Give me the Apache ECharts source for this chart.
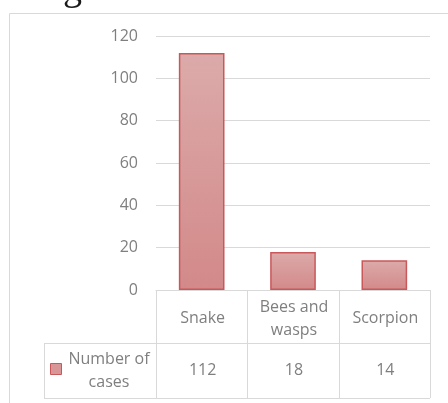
<!DOCTYPE html>
<html>
<head>
<meta charset="utf-8">
<script src="https://cdn.jsdelivr.net/npm/echarts@6/dist/echarts.min.js"></script>
<style>
  html, body { margin: 0; padding: 0; background: #fff; }
  #c { width: 448px; height: 403px; }
</style>
</head>
<body>
<div id="c"></div>
<script>
// Chart data
const categories = ['Snake', 'Bees and\nwasps', 'Scorpion'];
const cases = [112, 18, 14];
const seriesName = 'Number of\ncases';
const yMin = 0;
const yMax = 120;
const yStep = 20;

const TXT = '#7f7f7f';
const LINE = '#d9d9d9';
const FONT = 'Open Sans';
const FS = 16;

const chart = echarts.init(document.getElementById('c'), null, { renderer: 'canvas' });

chart.setOption({
  animation: false,
  backgroundColor: '#ffffff',
  grid: { left: 156, right: 18, top: 36, bottom: 113, containLabel: false },
  xAxis: {
    type: 'category',
    data: categories,
    axisLine: { show: true, lineStyle: { color: LINE, width: 1 } },
    axisTick: { show: false },
    axisLabel: { show: false },
    splitLine: { show: false }
  },
  yAxis: {
    type: 'value',
    min: yMin,
    max: yMax,
    interval: yStep,
    axisLine: { show: false },
    axisTick: { show: false },
    axisLabel: { color: TXT, fontFamily: FONT, fontSize: FS, margin: 18 },
    splitLine: { lineStyle: { color: LINE, width: 1 } }
  },
  series: [{
    name: seriesName,
    type: 'bar',
    data: cases,
    barWidth: '50%',
    itemStyle: {
      color: new echarts.graphic.LinearGradient(0, 0, 0, 1, [
        { offset: 0, color: '#dcaaaa' },
        { offset: 1, color: '#d38989' }
      ]),
      borderColor: '#c9585a',
      borderWidth: 1.5
    }
  }]
});

// Data table under the plot, laid out from the category axis positions
const c0 = chart.convertToPixel({ xAxisIndex: 0 }, 0);
const c1 = chart.convertToPixel({ xAxisIndex: 0 }, 1);
const band = c1 - c0;
const left = c0 - band / 2;
const right = left + band * categories.length;
const yTop = chart.convertToPixel({ yAxisIndex: 0 }, yMin);
const rowH1 = 53;
const rowH2 = 55;
const yMid = yTop + rowH1;
const yBot = yMid + rowH2;
const legLeft = 44;

const g = [];
const line = (x1, y1, x2, y2) => g.push({
  type: 'line', silent: true,
  shape: { x1: x1, y1: y1, x2: x2, y2: y2 },
  style: { stroke: LINE, lineWidth: 1 }
});

// outer frame of the chart area
line(9.5, 13.5, 448, 13.5);
line(9.5, 13.5, 9.5, 403);

// table grid
for (let i = 0; i <= categories.length; i++) {
  const x = Math.round(left + band * i) + 0.5;
  line(x, yTop, x, yBot);
}
line(legLeft + 0.5, yMid, legLeft + 0.5, yBot);
line(legLeft, Math.round(yMid) + 0.5, right, Math.round(yMid) + 0.5);
line(legLeft, Math.round(yBot) + 0.5, right, Math.round(yBot) + 0.5);

categories.forEach((name, i) => {
  const cx = chart.convertToPixel({ xAxisIndex: 0 }, i);
  g.push({
    type: 'text', silent: true,
    style: {
      x: cx + 1, y: yTop + rowH1 / 2 + 2, text: name,
      align: 'center', verticalAlign: 'middle',
      fill: TXT, font: FS + 'px "' + FONT + '"', lineHeight: 23
    }
  });
  g.push({
    type: 'text', silent: true,
    style: {
      x: cx + 1, y: yMid + rowH2 / 2, text: String(cases[i]),
      align: 'center', verticalAlign: 'middle',
      fill: TXT, font: FS + 'px "' + FONT + '"'
    }
  });
});

// legend key in the table's row header
g.push({
  type: 'rect', silent: true,
  shape: { x: 50.5, y: 363.5, width: 11, height: 11 },
  style: { fill: '#d89696', stroke: '#c9585a', lineWidth: 1 }
});
g.push({
  type: 'text', silent: true,
  style: {
    x: 109, y: yMid + rowH2 / 2, text: seriesName,
    align: 'center', verticalAlign: 'middle',
    fill: TXT, font: FS + 'px "' + FONT + '"', lineHeight: 23
  }
});

// surrounding document text, cut off by the top edge
g.push({
  type: 'text', silent: true,
  style: {
    x: 6, y: -10, text: 'ottage',
    align: 'left', verticalAlign: 'middle',
    fill: '#1a1a1a', font: '38px "Liberation Serif"'
  }
});

chart.setOption({ graphic: g });
</script>
</body>
</html>
